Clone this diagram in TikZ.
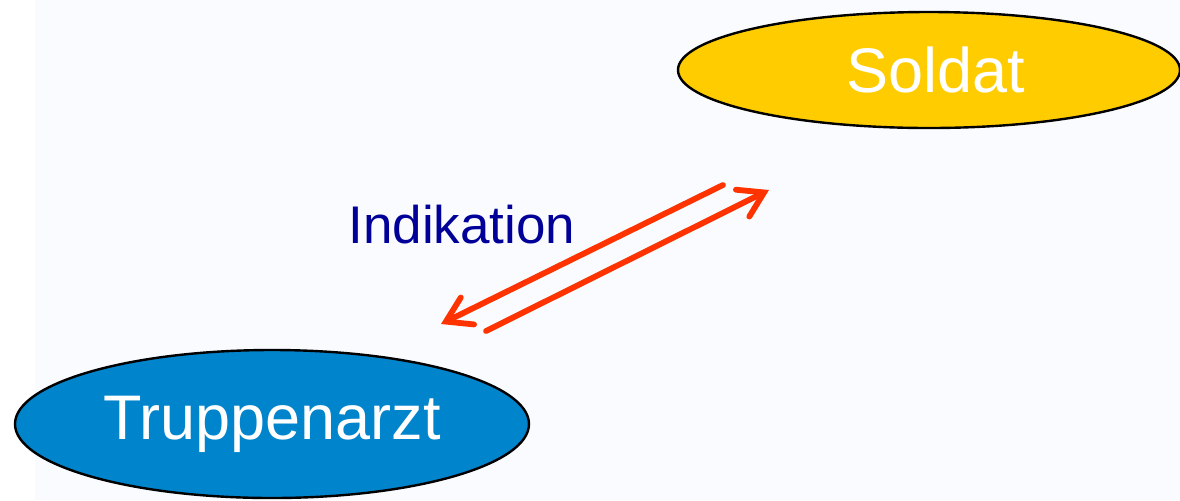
\documentclass[tikz,border=0pt]{standalone}
\usepackage{fontspec}
\setmainfont{Liberation Sans}
\usetikzlibrary{shapes.geometric,arrows.meta}
\definecolor{bgpale}{HTML}{FAFBFE}
\definecolor{soldatgelb}{HTML}{FFCC00}
\definecolor{arztblau}{HTML}{0084CC}
\definecolor{textblau}{HTML}{000099}
\definecolor{pfeilrot}{HTML}{FF3300}
\tikzset{
  rolle/.style={ellipse, draw=black, line width=1.2pt, inner sep=0pt, text=white, font=\fontsize{31.5}{38}\selectfont},
  fluss/.style={draw=pfeilrot, line width=2.9pt, line cap=round, -{Straight Barb[length=12pt, width=15pt, line cap=round]}}
}
\begin{document}
\begin{tikzpicture}[x=0.5pt, y=-0.5pt]
  \useasboundingbox (0,0) rectangle (1180,500);
  \clip (0,0) rectangle (1180,500);
  \fill[white] (0,0) rectangle (1180,500);
  \fill[bgpale] (35,0) rectangle (1180,500);
  \node[rolle, fill=soldatgelb, minimum width=251pt, minimum height=58pt] (soldat) at (929,70) {\hspace*{7pt}Soldat};
  \node[rolle, fill=arztblau, minimum width=257pt, minimum height=74pt] (arzt) at (272,424) {Truppenarzt};
  \node[text=textblau, font=\fontsize{26.5}{32}\selectfont] (indikation) at (462,225) {Indikation};
  \coordinate (hinA) at (723,185);
  \coordinate (hinB) at (441,324);
  \coordinate (rueckA) at (486,331);
  \coordinate (rueckB) at (769,190);
  \draw[fluss] (hinA) -- (hinB);
  \draw[fluss] (rueckA) -- (rueckB);
\end{tikzpicture}
\end{document}
